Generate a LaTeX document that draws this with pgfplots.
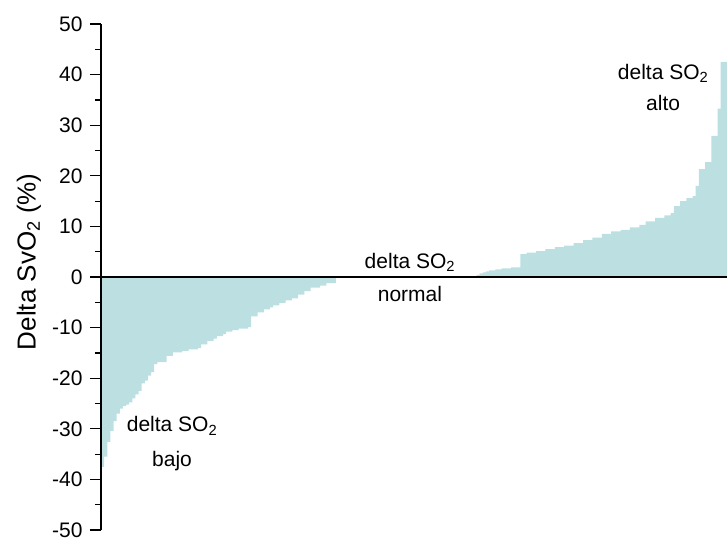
\documentclass[border=0pt]{standalone}
\usepackage{pgfplots}
\pgfplotsset{compat=1.18}
\usepackage{fontspec}
\setmainfont{Liberation Sans}
\definecolor{barfill}{RGB}{188,224,226}

\begin{document}
\begin{tikzpicture}
\useasboundingbox (-101bp,-8bp) rectangle (626bp,530bp);
\begin{axis}[
	scale only axis,
	width=626bp, height=506bp,
	xmin=0, xmax=200,
	ymin=-50, ymax=50,
	axis x line*=middle,
	axis y line*=left,
	xtick=\empty,
	ytick={-50,-40,...,50},
	minor y tick num=1,
	tick align=outside,
	major tick length=11bp,
	minor tick length=6bp,
	every tick/.style={black, line width=1.2bp},
	axis line style={black, line width=1.3bp},
	axis on top,
	/pgf/number format/assume math mode=true,
	tick label style={font=\fontsize{21bp}{25bp}\selectfont},
	yticklabel style={xshift=-4bp},
	ylabel={Delta SvO\textsubscript{2} (\%)},
	ylabel style={font=\fontsize{26bp}{30bp}\selectfont, at={(axis description cs:-0.115,0.53)}, anchor=center},
	clip=false,
]

% values sorted from lowest to highest, one step per patient
\addplot[const plot, fill=barfill, draw=none] coordinates {
	(0,-37.5) (1,-35.5) (2,-32.6) (3,-30.4) (4,-28.5) (5,-27) (6,-26) (7,-25.5)
	(8,-25.2) (9,-24.8) (10,-24) (11,-23.2) (12,-22.5) (13,-21) (14,-20.5)
	(15,-19.5) (16,-18.8) (17,-17.2) (18,-16.8) (21,-15.6) (23,-14.9) (26,-14.6)
	(28,-14.3) (31,-14.0) (32,-13.3) (34,-12.6) (36,-12.2) (37,-11.7) (39,-11.3)
	(40,-10.8) (42,-10.5) (44,-10.2) (47,-9.9) (48,-7.8) (50,-7.0) (52,-6.4)
	(54,-6.0) (55,-5.6) (57,-5.1) (59,-4.6) (61,-4.2) (63,-3.5) (65,-2.8)
	(67,-2.1) (70,-1.7) (72,-1.2) (75,-1.2)
} \closedcycle;

\addplot[const plot, fill=barfill, draw=none] coordinates {
	(120,0.4) (121,0.7) (122,0.9) (123,1.1) (124,1.3) (126,1.5) (128,1.7)
	(131,1.9) (134,4.5) (136,4.8) (139,5.1) (142,5.5) (145,5.9) (148,6.2)
	(151,6.7) (154,7.3) (157,7.8) (160,8.5) (163,9.0) (166,9.3) (169,9.8)
	(172,10.3) (174,11.0) (177,11.7) (180,12.2) (182,12.6) (183,14.0)
	(185,15.0) (187,15.6) (189,16.0) (190,18.0) (191,21.3) (193,22.7)
	(195,27.9) (197,33.3) (198,42.5) (200,42.5)
} \closedcycle;

\node[align=center, font=\fontsize{21bp}{35bp}\selectfont] at (axis cs:22.7,-33)
	{delta SO\textsubscript{2}\\bajo};
\node[align=center, font=\fontsize{21bp}{33bp}\selectfont] at (axis cs:98.7,0)
	{delta SO\textsubscript{2}\\normal};
\node[align=center, font=\fontsize{21bp}{31bp}\selectfont] at (axis cs:179.6,37.5)
	{delta SO\textsubscript{2}\\alto};
\end{axis}
\end{tikzpicture}
\end{document}
